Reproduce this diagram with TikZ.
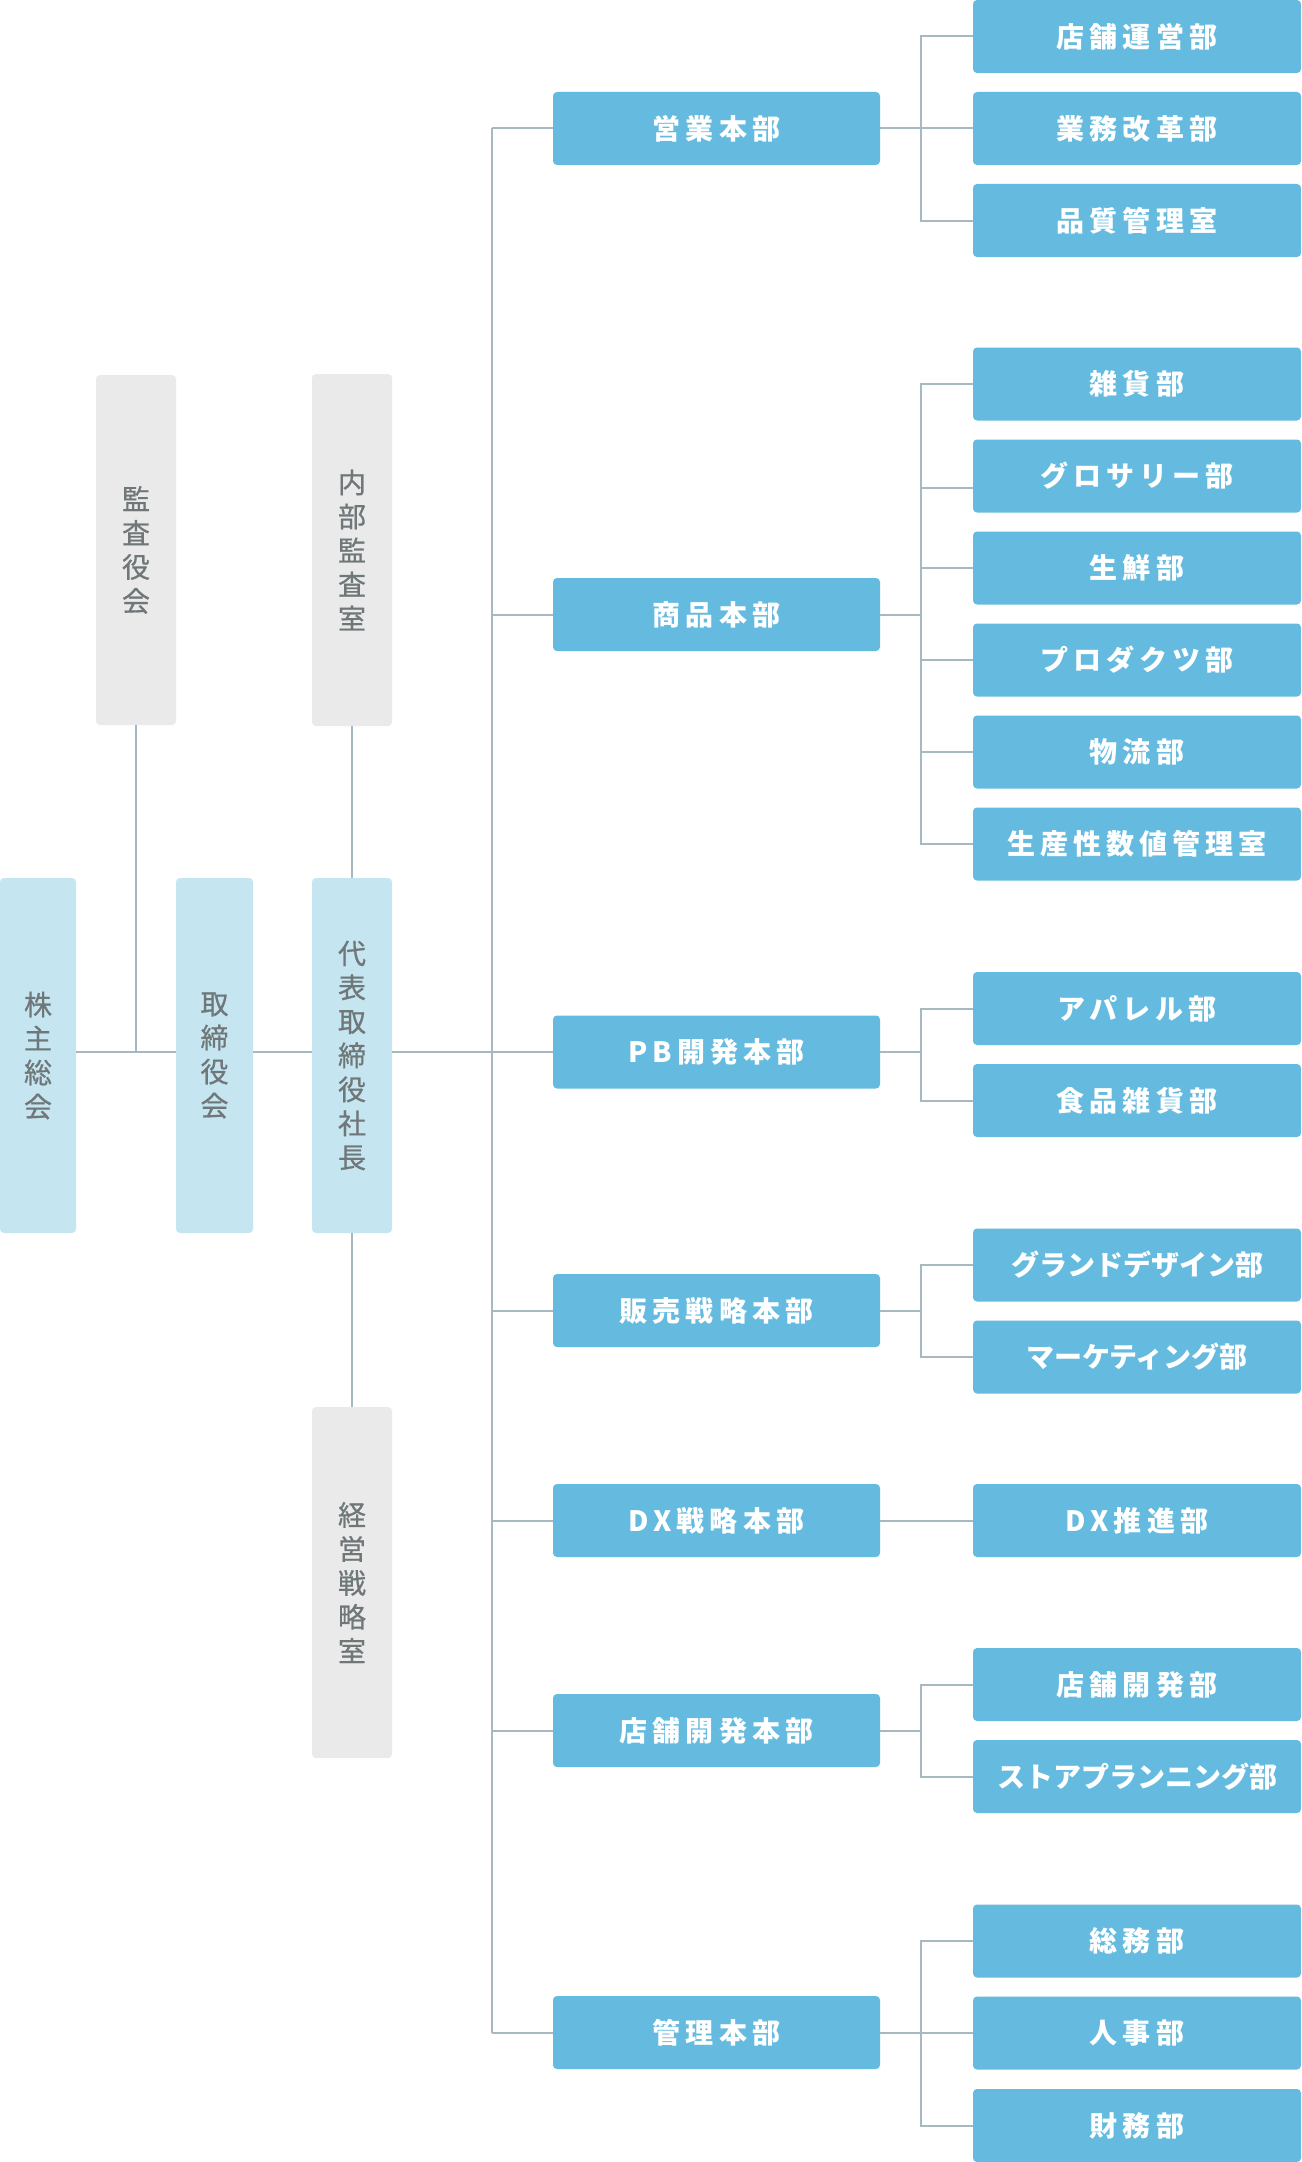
\documentclass[tikz,border=0pt]{standalone}
\usepackage{fontspec}
\newfontfamily\jp{Noto Sans CJK JP}
\newfontfamily\jpm{Noto Sans CJK JP}[FakeBold=0.6]
\definecolor{cblue}{HTML}{65BBDF}
\definecolor{clight}{HTML}{C5E5F0}
\definecolor{cgbox}{HTML}{EAEAEA}
\definecolor{cline}{HTML}{A6B9C1}
\definecolor{cgtext}{HTML}{6F7779}
\begin{document}
\begin{tikzpicture}[x=1pt,y=-1pt,
  conn/.style={draw=cline,line width=2pt},
  hbox/.style={rectangle,rounded corners=4pt,fill=cblue,text=white,inner sep=0pt,
    minimum width=327pt,minimum height=73pt,
    font=\jp\bfseries\fontsize{28}{34}\selectfont\addfontfeature{LetterSpace=18}},
  lbox/.style={hbox,minimum width=328pt},
  tight/.style={font=\jp\bfseries\fontsize{28}{34}\selectfont},
  vbox/.style={rectangle,rounded corners=4pt,text=cgtext,inner sep=0pt,align=center,
    minimum width=80pt,font=\jpm\fontsize{28}{34}\selectfont},
  vblue/.style={vbox,fill=clight},
  vgray/.style={vbox,fill=cgbox}]
\useasboundingbox[fill=white] (0,0) rectangle (1301,2162);
\coordinate (hl) at (0,1052);
\coordinate (tr) at (492,0);
% left column
\node[vblue,minimum width=76pt,minimum height=355pt] (gm) at (38,1055.5) {株\\主\\総\\会};
\node[vblue,minimum width=77pt,minimum height=355pt] (bod) at (214.5,1055.5) {取\\締\\役\\会};
\node[vblue,minimum height=355pt] (ceo) at (352,1055.5) {代\\表\\取\\締\\役\\社\\長};
\node[vgray,minimum height=350pt] (audit) at (136,550) {監\\査\\役\\会};
\node[vgray,minimum height=352pt] (ia) at (352,550) {内\\部\\監\\査\\室};
\node[vgray,minimum height=351pt] (sp) at (352,1582.5) {経\\営\\戦\\略\\室};
% level 2
\node[hbox] (eig) at (716.5,128.5) {営業本部};
\node[hbox] (sho) at (716.5,614.5) {商品本部};
\node[hbox] (pb) at (716.5,1052) {PB開発本部};
\node[hbox] (han) at (716.5,1310.5) {販売戦略本部};
\node[hbox] (dx) at (716.5,1520.5) {DX戦略本部};
\node[hbox] (ten) at (716.5,1730.5) {店舗開発本部};
\node[hbox] (kan) at (716.5,2032.5) {管理本部};
% level 3
\node[lbox] (a1) at (1137,36.5) {店舗運営部};
\node[lbox] (a2) at (1137,128.5) {業務改革部};
\node[lbox] (a3) at (1137,220.5) {品質管理室};
\node[lbox] (b1) at (1137,384) {雑貨部};
\node[lbox] (b2) at (1137,476) {グロサリー部};
\node[lbox] (b3) at (1137,568) {生鮮部};
\node[lbox] (b4) at (1137,660) {プロダクツ部};
\node[lbox] (b5) at (1137,752) {物流部};
\node[lbox] (b6) at (1137,844) {生産性数値管理室};
\node[lbox] (c1) at (1137,1008.5) {アパレル部};
\node[lbox] (c2) at (1137,1100.5) {食品雑貨部};
\node[lbox,tight] (d1) at (1137,1265) {グランドデザイン部};
\node[lbox,tight] (d2) at (1137,1357) {マーケティング部};
\node[lbox] (e1) at (1137,1520.5) {DX推進部};
\node[lbox] (f1) at (1137,1684.5) {店舗開発部};
\node[lbox,tight] (f2) at (1137,1776.5) {ストアプランニング部};
\node[lbox] (g1) at (1137,1941) {総務部};
\node[lbox] (g2) at (1137,2033) {人事部};
\node[lbox] (g3) at (1137,2125.5) {財務部};
% connectors left
\draw[conn] (hl -| gm.east) -- (hl -| bod.west);
\draw[conn] (audit.south) -- (audit.south |- hl);
\draw[conn] (hl -| bod.east) -- (hl -| ceo.west);
\draw[conn] (ceo.north) -- (ia.south);
\draw[conn] (ceo.south) -- (sp.north);
\draw[conn] (pb.west -| ceo.east) -- (pb.west);
% trunk
\draw[conn] (eig.west -| tr) -- (kan.west -| tr);
\foreach \n in {eig,sho,han,dx,ten,kan}
  \draw[conn] (\n.west -| tr) -- (\n.west);
% branches
\foreach \p/\c in {eig/a1,eig/a2,eig/a3,sho/b1,sho/b3,sho/b4,sho/b5,sho/b6,
  pb/c1,pb/c2,han/d1,han/d2,ten/f1,ten/f2,kan/g1,kan/g2,kan/g3}
  \draw[conn] (\p.east) -- ++(41,0) |- (\c.west);
\draw[conn] (sho.east) -- ++(41,0) |- ([yshift=-12pt]b2.west);
\draw[conn] (dx.east) -- (e1.west);
\end{tikzpicture}
\end{document}
